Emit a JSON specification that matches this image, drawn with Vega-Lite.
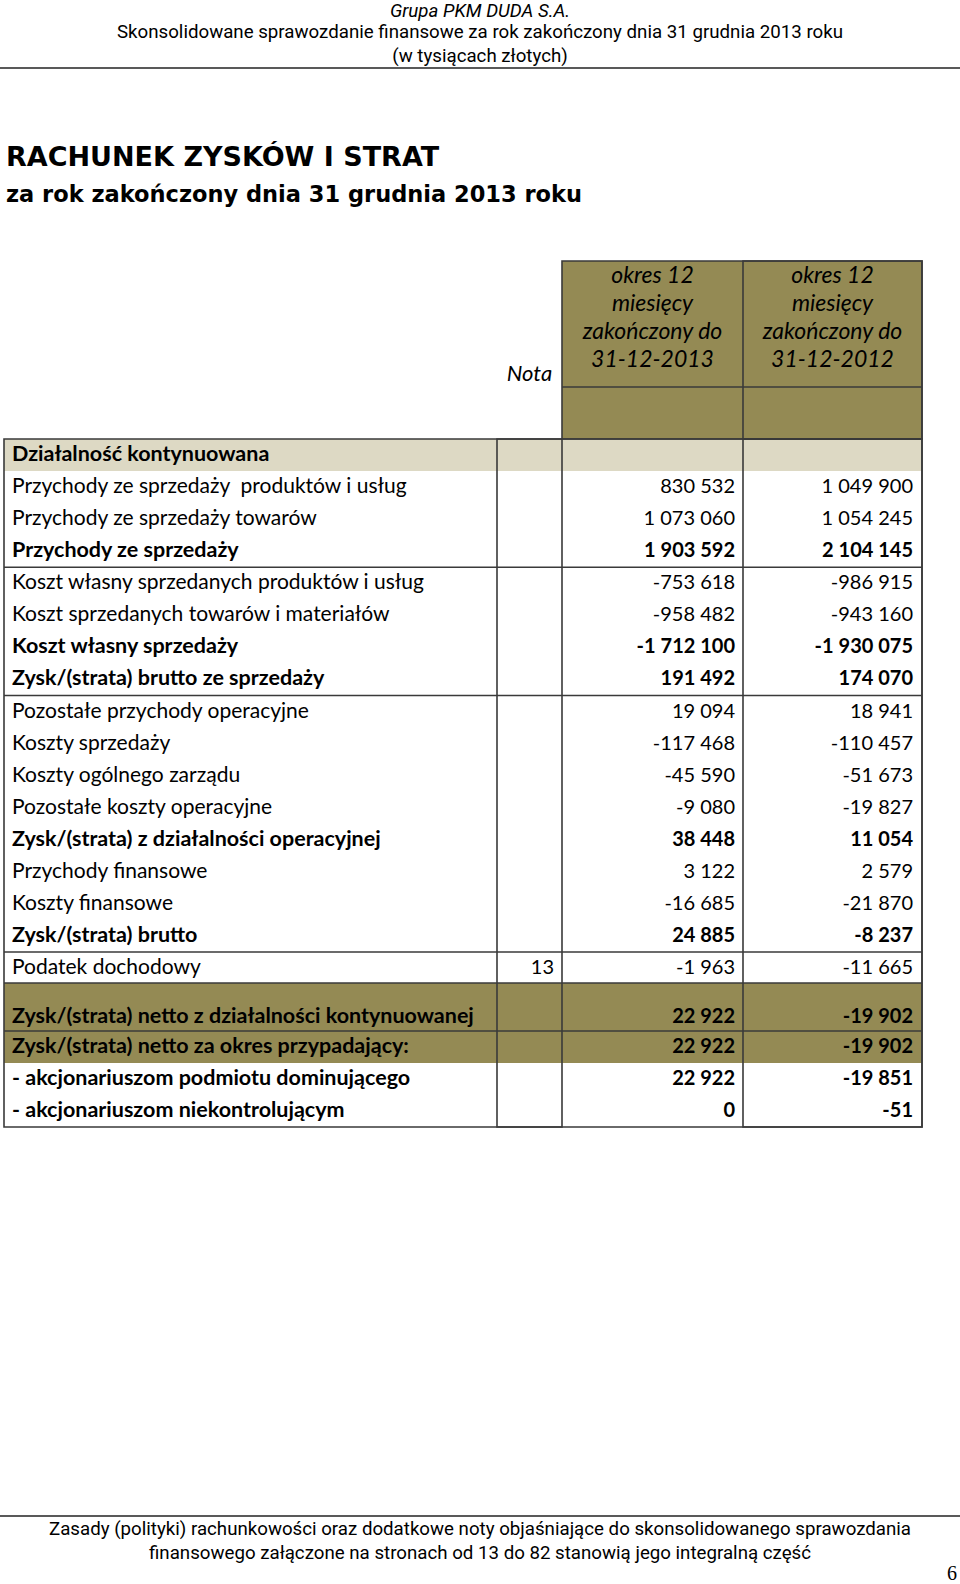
{
  "$schema": "https://vega.github.io/schema/vega-lite/v6.json",
  "width": 960,
  "height": 1584,
  "autosize": "none",
  "padding": 0,
  "background": "white",
  "config": {
    "view": {"stroke": null},
    "locale": {"number": {"decimal": ",", "thousands": " ", "grouping": [3], "currency": ["", " zł"], "minus": "-"}},
    "text": {"color": "#000000"}
  },
  "datasets": {
    "statement": [
      {"row": 11, "label": "Działalność kontynuowana", "type": "section", "nota": null, "v2013": null, "v2012": null},
      {"row": 12, "label": "Przychody ze sprzedaży\u00a0 produktów i usług", "type": "detail", "nota": null, "v2013": 830532, "v2012": 1049900},
      {"row": 13, "label": "Przychody ze sprzedaży towarów", "type": "detail", "nota": null, "v2013": 1073060, "v2012": 1054245},
      {"row": 14, "label": "Przychody ze sprzedaży", "type": "subtotal", "nota": null, "v2013": 1903592, "v2012": 2104145},
      {"row": 15, "label": "Koszt własny sprzedanych produktów i usług", "type": "detail", "nota": null, "v2013": -753618, "v2012": -986915},
      {"row": 16, "label": "Koszt sprzedanych towarów i materiałów", "type": "detail", "nota": null, "v2013": -958482, "v2012": -943160},
      {"row": 17, "label": "Koszt własny sprzedaży", "type": "subtotal", "nota": null, "v2013": -1712100, "v2012": -1930075},
      {"row": 18, "label": "Zysk/(strata) brutto ze sprzedaży", "type": "subtotal", "nota": null, "v2013": 191492, "v2012": 174070},
      {"row": 19, "label": "Pozostałe przychody operacyjne", "type": "detail", "nota": null, "v2013": 19094, "v2012": 18941},
      {"row": 20, "label": "Koszty sprzedaży", "type": "detail", "nota": null, "v2013": -117468, "v2012": -110457},
      {"row": 21, "label": "Koszty ogólnego zarządu", "type": "detail", "nota": null, "v2013": -45590, "v2012": -51673},
      {"row": 22, "label": "Pozostałe koszty operacyjne", "type": "detail", "nota": null, "v2013": -9080, "v2012": -19827},
      {"row": 23, "label": "Zysk/(strata) z działalności operacyjnej", "type": "subtotal", "nota": null, "v2013": 38448, "v2012": 11054},
      {"row": 24, "label": "Przychody finansowe", "type": "detail", "nota": null, "v2013": 3122, "v2012": 2579},
      {"row": 25, "label": "Koszty finansowe", "type": "detail", "nota": null, "v2013": -16685, "v2012": -21870},
      {"row": 26, "label": "Zysk/(strata) brutto", "type": "subtotal", "nota": null, "v2013": 24885, "v2012": -8237},
      {"row": 27, "label": "Podatek dochodowy", "type": "detail", "nota": "13", "v2013": -1963, "v2012": -11665},
      {"row": 28, "label": "Zysk/(strata) netto z działalności kontynuowanej", "type": "total", "nota": null, "v2013": 22922, "v2012": -19902},
      {"row": 29, "label": "Zysk/(strata) netto za okres przypadający:", "type": "total", "nota": null, "v2013": 22922, "v2012": -19902},
      {"row": 30, "label": "\u00a0- akcjonariuszom podmiotu dominującego", "type": "share", "nota": null, "v2013": 22922, "v2012": -19851},
      {"row": 31, "label": "\u00a0- akcjonariuszom niekontrolującym", "type": "share", "nota": null, "v2013": 0, "v2012": -51}
    ],
    "columnHeads": [
      {"col": 3, "row": 8, "text": "okres 12\nmiesięcy\nzakończony do\n31-12-2013"},
      {"col": 4, "row": 8, "text": "okres 12\nmiesięcy\nzakończony do\n31-12-2012"},
      {"col": 2, "row": 9, "text": "Nota"}
    ],
    "pageText": [
      {"part": "brand", "row": 1, "text": "Grupa PKM DUDA S.A."},
      {"part": "running", "row": 2, "text": "Skonsolidowane sprawozdanie finansowe za rok zakończony dnia 31 grudnia 2013 roku"},
      {"part": "running", "row": 3, "text": "(w tysiącach złotych)"},
      {"part": "title", "row": 5, "text": "RACHUNEK ZYSKÓW I STRAT"},
      {"part": "subtitle", "row": 6, "text": "za rok zakończony dnia 31 grudnia 2013 roku"},
      {"part": "footer", "row": 33, "text": "Zasady (polityki) rachunkowości oraz dodatkowe noty objaśniające do skonsolidowanego sprawozdania"},
      {"part": "footer", "row": 34, "text": "finansowego załączone na stronach od 13 do 82 stanowią jego integralną część"},
      {"part": "page", "row": 35, "text": "6"}
    ]
  },
  "layer": [
    {"data": {"values": [{}]}, "mark": {"type": "rect", "fill": "#948A54"},
     "encoding": {
       "x": {"datum": 2.5, "type": "quantitative", "axis": null, "scale": {"type": "linear", "zero": false, "nice": false, "domain": [0, 0.5, 1, 1.5, 2.5, 3.5, 4.5, 5], "range": [0, 4, 480, 497, 562, 743, 922, 960]}},
       "x2": {"datum": 4.5},
       "y": {"datum": 7.5, "type": "quantitative", "axis": null, "scale": {"type": "linear", "zero": false, "nice": false, "domain": [0.5, 1.5, 2.5, 3.5, 4.5, 5.5, 6.5, 7.5, 8, 8.5, 9.5, 10.5, 26.5, 27.5, 28, 28.5, 31.5, 32.5, 33.5, 34.5, 35.5], "range": [2, 20, 43, 68, 140, 176, 214, 261, 276, 375, 387, 439, 952, 983, 1017, 1031, 1127, 1516, 1542, 1563, 1585]}},
       "y2": {"datum": 10.5}}},
    {"data": {"values": [{}]}, "mark": {"type": "rect", "fill": "#DDD9C4"},
     "encoding": {"x": {"datum": 0.5, "type": "quantitative"}, "x2": {"datum": 4.5}, "y": {"datum": 10.5, "type": "quantitative"}, "y2": {"datum": 11.5}}},
    {"data": {"values": [{}]}, "mark": {"type": "rect", "fill": "#948A54"},
     "encoding": {"x": {"datum": 0.5, "type": "quantitative"}, "x2": {"datum": 4.5}, "y": {"datum": 27.5, "type": "quantitative"}, "y2": {"datum": 29.5}}},
    {"data": {"values": [{}]}, "mark": {"type": "rect", "fill": null, "stroke": "#3A3A3A", "strokeWidth": 1.6},
     "encoding": {"x": {"datum": 0.5, "type": "quantitative"}, "x2": {"datum": 4.5}, "y": {"datum": 10.5, "type": "quantitative"}, "y2": {"datum": 31.5}}},
    {"data": {"values": [{}]}, "mark": {"type": "rect", "fill": null, "stroke": "#3A3A3A", "strokeWidth": 1.6},
     "encoding": {"x": {"datum": 1.5, "type": "quantitative"}, "x2": {"datum": 2.5}, "y": {"datum": 10.5, "type": "quantitative"}, "y2": {"datum": 31.5}}},
    {"data": {"values": [{}]}, "mark": {"type": "rect", "fill": null, "stroke": "#3A3A3A", "strokeWidth": 1.6},
     "encoding": {"x": {"datum": 3.5, "type": "quantitative"}, "x2": {"datum": 4.5}, "y": {"datum": 10.5, "type": "quantitative"}, "y2": {"datum": 31.5}}},
    {"data": {"values": [{}]}, "mark": {"type": "rect", "fill": null, "stroke": "#3A3A3A", "strokeWidth": 1.6},
     "encoding": {"x": {"datum": 2.5, "type": "quantitative"}, "x2": {"datum": 4.5}, "y": {"datum": 7.5, "type": "quantitative"}, "y2": {"datum": 10.5}}},
    {"data": {"values": [{}]}, "mark": {"type": "rect", "fill": null, "stroke": "#3A3A3A", "strokeWidth": 1.6},
     "encoding": {"x": {"datum": 3.5, "type": "quantitative"}, "x2": {"datum": 4.5}, "y": {"datum": 7.5, "type": "quantitative"}, "y2": {"datum": 10.5}}},
    {"data": {"values": [{}]}, "mark": {"type": "rule", "stroke": "#3A3A3A", "strokeWidth": 1.6},
     "encoding": {"x": {"datum": 2.5, "type": "quantitative"}, "x2": {"datum": 4.5}, "y": {"datum": 9.5, "type": "quantitative"}}},
    {"data": {"values": [{}]}, "mark": {"type": "rule", "stroke": "#3A3A3A", "strokeWidth": 1.6},
     "encoding": {"x": {"datum": 0.5, "type": "quantitative"}, "x2": {"datum": 4.5}, "y": {"datum": 14.5, "type": "quantitative"}}},
    {"data": {"values": [{}]}, "mark": {"type": "rule", "stroke": "#3A3A3A", "strokeWidth": 1.6},
     "encoding": {"x": {"datum": 0.5, "type": "quantitative"}, "x2": {"datum": 4.5}, "y": {"datum": 18.5, "type": "quantitative"}}},
    {"data": {"values": [{}]}, "mark": {"type": "rule", "stroke": "#3A3A3A", "strokeWidth": 1.6},
     "encoding": {"x": {"datum": 0.5, "type": "quantitative"}, "x2": {"datum": 4.5}, "y": {"datum": 26.5, "type": "quantitative"}}},
    {"data": {"values": [{}]}, "mark": {"type": "rule", "stroke": "#3A3A3A", "strokeWidth": 1.6},
     "encoding": {"x": {"datum": 0.5, "type": "quantitative"}, "x2": {"datum": 4.5}, "y": {"datum": 27.5, "type": "quantitative"}}},
    {"data": {"values": [{}]}, "mark": {"type": "rule", "stroke": "#3A3A3A", "strokeWidth": 1.6},
     "encoding": {"x": {"datum": 0.5, "type": "quantitative"}, "x2": {"datum": 4.5}, "y": {"datum": 28.5, "type": "quantitative"}}},
    {"data": {"values": [{}]}, "mark": {"type": "rule", "stroke": "#222222", "strokeWidth": 1.6},
     "encoding": {"x": {"datum": 0, "type": "quantitative"}, "x2": {"datum": 5}, "y": {"datum": 3.5, "type": "quantitative"}}},
    {"data": {"values": [{}]}, "mark": {"type": "rule", "stroke": "#222222", "strokeWidth": 1.4},
     "encoding": {"x": {"datum": 0, "type": "quantitative"}, "x2": {"datum": 5}, "y": {"datum": 32.5, "type": "quantitative"}}},

    {"data": {"name": "pageText"}, "transform": [{"filter": "datum.part == 'brand'"}],
     "mark": {"type": "text", "align": "center", "baseline": "middle", "font": "Roboto", "fontStyle": "italic", "fontSize": 18.7},
     "encoding": {"x": {"datum": 1, "type": "quantitative"}, "y": {"field": "row", "type": "quantitative"}, "text": {"field": "text"}}},
    {"data": {"name": "pageText"}, "transform": [{"filter": "datum.part == 'running' || datum.part == 'footer'"}],
     "mark": {"type": "text", "align": "center", "baseline": "middle", "font": "Roboto", "fontSize": 18.7},
     "encoding": {"x": {"datum": 1, "type": "quantitative"}, "y": {"field": "row", "type": "quantitative"}, "text": {"field": "text"}}},
    {"data": {"name": "pageText"}, "transform": [{"filter": "datum.part == 'title'"}],
     "mark": {"type": "text", "align": "left", "baseline": "middle", "dx": 2, "font": "DejaVu Sans", "fontWeight": "bold", "fontSize": 27},
     "encoding": {"x": {"datum": 0.5, "type": "quantitative"}, "y": {"field": "row", "type": "quantitative"}, "text": {"field": "text"}}},
    {"data": {"name": "pageText"}, "transform": [{"filter": "datum.part == 'subtitle'"}],
     "mark": {"type": "text", "align": "left", "baseline": "middle", "dx": 2, "font": "DejaVu Sans", "fontWeight": "bold", "fontSize": 22.5},
     "encoding": {"x": {"datum": 0.5, "type": "quantitative"}, "y": {"field": "row", "type": "quantitative"}, "text": {"field": "text"}}},
    {"data": {"name": "pageText"}, "transform": [{"filter": "datum.part == 'page'"}],
     "mark": {"type": "text", "align": "right", "baseline": "middle", "dx": -3, "font": "Liberation Serif", "fontSize": 20},
     "encoding": {"x": {"datum": 5, "type": "quantitative"}, "y": {"field": "row", "type": "quantitative"}, "text": {"field": "text"}}},

    {"data": {"name": "columnHeads"}, "transform": [{"filter": "datum.col > 2"}],
     "mark": {"type": "text", "align": "center", "baseline": "middle", "lineBreak": "\n", "lineHeight": 28, "font": "Lato", "fontStyle": "italic", "fontSize": 23},
     "encoding": {"x": {"field": "col", "type": "quantitative"}, "y": {"field": "row", "type": "quantitative"}, "text": {"field": "text"}}},
    {"data": {"name": "columnHeads"}, "transform": [{"filter": "datum.col == 2"}],
     "mark": {"type": "text", "align": "center", "baseline": "alphabetic", "font": "Lato", "fontStyle": "italic", "fontSize": 22},
     "encoding": {"x": {"field": "col", "type": "quantitative"}, "y": {"field": "row", "type": "quantitative"}, "text": {"field": "text"}}},

    {"data": {"name": "statement"}, "transform": [{"filter": "datum.type == 'detail'"}],
     "mark": {"type": "text", "align": "left", "baseline": "middle", "dx": 8, "font": "Lato", "fontSize": 21},
     "encoding": {"x": {"datum": 0.5, "type": "quantitative"}, "y": {"field": "row", "type": "quantitative"}, "text": {"field": "label"}}},
    {"data": {"name": "statement"}, "transform": [{"filter": "datum.type != 'detail'"}],
     "mark": {"type": "text", "align": "left", "baseline": "middle", "dx": 8, "font": "Lato", "fontWeight": "bold", "fontSize": 21.5},
     "encoding": {"x": {"datum": 0.5, "type": "quantitative"}, "y": {"field": "row", "type": "quantitative"}, "text": {"field": "label"}}},
    {"data": {"name": "statement"}, "transform": [{"filter": {"field": "nota", "valid": true}}],
     "mark": {"type": "text", "align": "right", "baseline": "middle", "dx": -8, "font": "Lato", "fontSize": 20},
     "encoding": {"x": {"datum": 2.5, "type": "quantitative"}, "y": {"field": "row", "type": "quantitative"}, "text": {"field": "nota"}}},
    {"data": {"name": "statement"}, "transform": [{"filter": {"field": "v2013", "valid": true}}, {"filter": "datum.type == 'detail'"}],
     "mark": {"type": "text", "align": "right", "baseline": "middle", "dx": -8, "font": "Lato", "fontSize": 20},
     "encoding": {"x": {"datum": 3.5, "type": "quantitative"}, "y": {"field": "row", "type": "quantitative"}, "text": {"field": "v2013", "type": "quantitative", "format": ",d"}}},
    {"data": {"name": "statement"}, "transform": [{"filter": {"field": "v2013", "valid": true}}, {"filter": "datum.type != 'detail'"}],
     "mark": {"type": "text", "align": "right", "baseline": "middle", "dx": -8, "font": "Lato", "fontWeight": "bold", "fontSize": 20},
     "encoding": {"x": {"datum": 3.5, "type": "quantitative"}, "y": {"field": "row", "type": "quantitative"}, "text": {"field": "v2013", "type": "quantitative", "format": ",d"}}},
    {"data": {"name": "statement"}, "transform": [{"filter": {"field": "v2012", "valid": true}}, {"filter": "datum.type == 'detail'"}],
     "mark": {"type": "text", "align": "right", "baseline": "middle", "dx": -9, "font": "Lato", "fontSize": 20},
     "encoding": {"x": {"datum": 4.5, "type": "quantitative"}, "y": {"field": "row", "type": "quantitative"}, "text": {"field": "v2012", "type": "quantitative", "format": ",d"}}},
    {"data": {"name": "statement"}, "transform": [{"filter": {"field": "v2012", "valid": true}}, {"filter": "datum.type != 'detail'"}],
     "mark": {"type": "text", "align": "right", "baseline": "middle", "dx": -9, "font": "Lato", "fontWeight": "bold", "fontSize": 20},
     "encoding": {"x": {"datum": 4.5, "type": "quantitative"}, "y": {"field": "row", "type": "quantitative"}, "text": {"field": "v2012", "type": "quantitative", "format": ",d"}}}
  ]
}
